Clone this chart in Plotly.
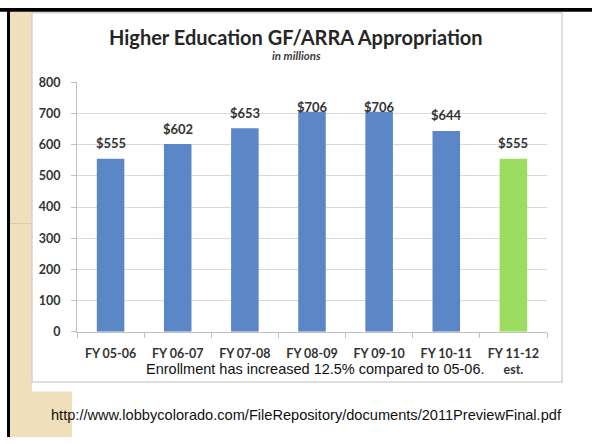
import plotly.graph_objects as go

categories = ["FY 05-06", "FY 06-07", "FY 07-08", "FY 08-09", "FY 09-10", "FY 10-11", "FY 11-12"]
tick_labels = ["FY 05-06", "FY 06-07", "FY 07-08", "FY 08-09", "FY 09-10", "FY 10-11", "FY 11-12<br>est."]
values = [555, 602, 653, 706, 706, 644, 555]
bar_colors = ["#5b87c6"] * 6 + ["#9cdc5e"]
value_labels = ["$" + str(v) for v in values]

W, H = 592, 444

def px(x):
    return x / W

def py(y):
    return 1 - y / H

fig = go.Figure()
fig.add_trace(go.Bar(
    x=categories, y=values, marker=dict(color=bar_colors, line=dict(width=0)),
    width=0.41, hoverinfo="x+y", showlegend=False,
))

annotations = []
for c, v, t in zip(categories, values, value_labels):
    annotations.append(dict(
        x=c, y=min(v + 50, 722), xref="x", yref="y", text="<b>" + t + "</b>",
        showarrow=False, yanchor="middle",
        font=dict(family="Lato", size=13, color="#333333"),
    ))

annotations += [
    dict(x=px(296), y=py(30), xref="paper", yref="paper", showarrow=False,
         text="<b>Higher Education GF/ARRA Appropriation</b>",
         font=dict(family="Lato", size=20, color="#262626"), xanchor="center", yanchor="middle"),
    dict(x=px(323), y=py(49), xref="paper", yref="paper", showarrow=False,
         text="<b><i>in millions</i></b>",
         font=dict(family="Lato", size=11.5, color="#404040"), xanchor="right", yanchor="middle"),
    dict(x=px(144), y=py(374), xref="paper", yref="paper", showarrow=False,
         text="Enrollment has increased 12.5% compared to 05-06.",
         font=dict(family="Liberation Sans", size=14.5, color="#111111"), xanchor="left", yanchor="middle"),
    dict(x=px(49), y=py(421), xref="paper", yref="paper", showarrow=False,
         text="http://www.lobbycolorado.com/FileRepository/documents/2011PreviewFinal.pdf",
         font=dict(family="Liberation Sans", size=14.6, color="#111111"), xanchor="left", yanchor="middle"),
]

shapes = [
    dict(type="rect", xref="paper", yref="paper", x0=px(10), x1=px(32), y0=py(444), y1=py(4),
         fillcolor="#efdfbb", line=dict(width=0), layer="below"),
    dict(type="rect", xref="paper", yref="paper", x0=px(10), x1=px(72), y0=py(444), y1=py(397),
         fillcolor="#efdfbb", line=dict(width=0), layer="below"),
    dict(type="line", xref="paper", yref="paper", x0=px(10), x1=px(32), y0=py(223), y1=py(223),
         line=dict(color="#d8ccb0", width=1), layer="below"),
    dict(type="rect", xref="paper", yref="paper", x0=0, x1=1, y0=py(4), y1=1,
         fillcolor="#000000", line=dict(width=0), layer="below"),
    dict(type="rect", xref="paper", yref="paper", x0=px(7), x1=px(10), y0=0, y1=1,
         fillcolor="#000000", line=dict(width=0), layer="below"),
    dict(type="rect", xref="paper", yref="paper", x0=px(32), x1=px(562), y0=py(387), y1=py(5),
         fillcolor="#ffffff", line=dict(color="#d4d4d4", width=1.5), layer="below"),
]

fig.update_layout(
    width=W, height=H,
    margin=dict(l=0, r=0, t=0, b=0),
    paper_bgcolor="#ffffff", plot_bgcolor="rgba(0,0,0,0)",
    bargap=0.6,
    shapes=shapes, annotations=annotations,
    xaxis=dict(
        domain=[px(77), px(547)],
        type="category", tickmode="array", tickvals=categories, ticktext=tick_labels,
        showline=True, linecolor="#bfbfbf", linewidth=1,
        ticks="outside", tickson="boundaries", ticklen=5, tickcolor="#bfbfbf",
        showgrid=False,
        tickfont=dict(family="Lato", size=12.5, color="#333333", weight="bold"),
        ticklabelstandoff=10,
    ),
    yaxis=dict(
        domain=[py(335), py(77)],
        range=[0, 800], dtick=100, tick0=0,
        showline=True, linecolor="#bfbfbf", linewidth=1,
        ticks="outside", ticklen=5, tickcolor="#bfbfbf",
        showgrid=True, gridcolor="#d9d9d9", gridwidth=1,
        zeroline=False,
        tickfont=dict(family="Lato", size=12.5, color="#333333", weight="bold"),
        ticklabelstandoff=8,
    ),
    font=dict(family="Lato"),
)

fig.write_html(
    "out.html",
    config={"displayModeBar": False},
    post_script=(
        "document.documentElement.style.margin='0px';"
        "document.body.style.margin='0px';document.body.style.overflow='hidden';"
        "var d=document.getElementById('{plot_id}');"
        "d.style.position='fixed';d.style.top='0px';d.style.left='0px';"
    ),
)
